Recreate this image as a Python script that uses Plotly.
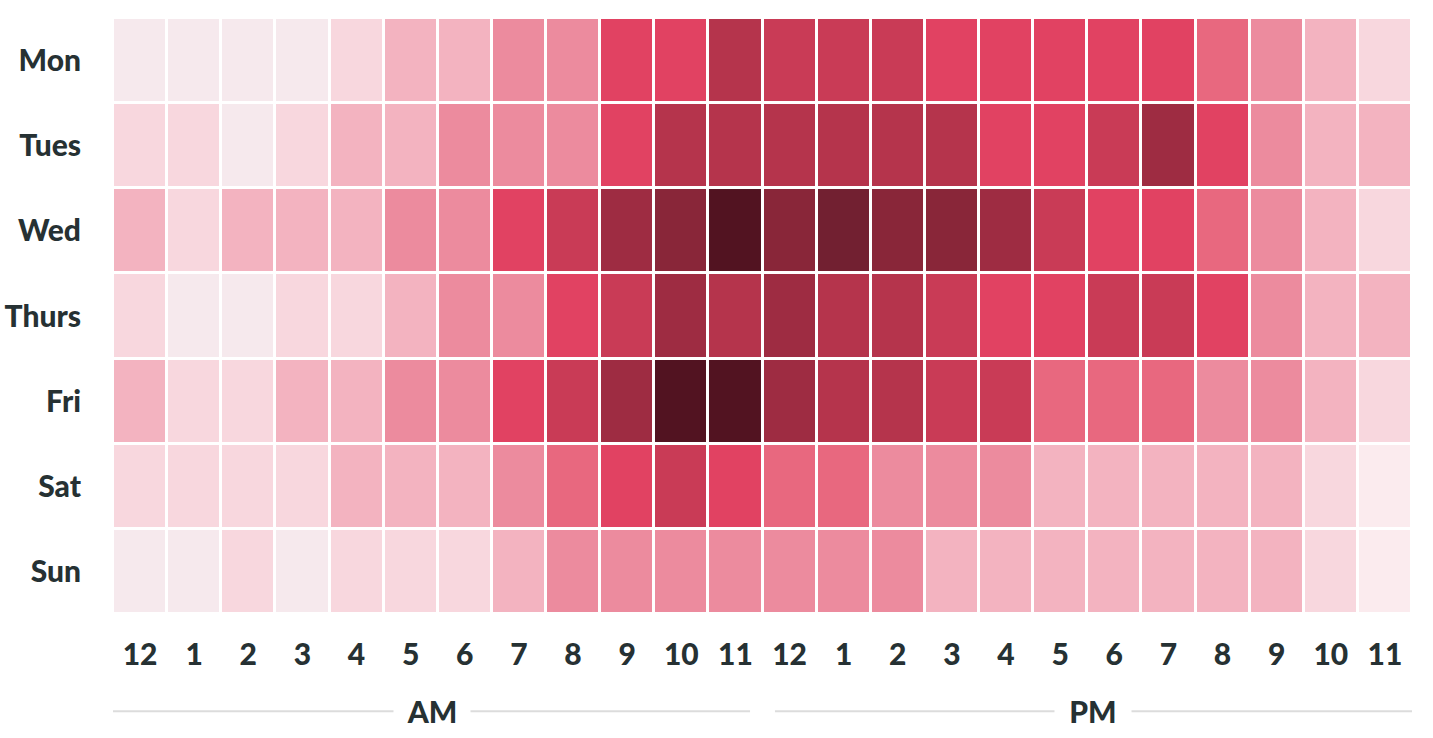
import plotly.graph_objects as go

days = ["Mon", "Tues", "Wed", "Thurs", "Fri", "Sat", "Sun"]
hour_labels = ["12", "1", "2", "3", "4", "5", "6", "7", "8", "9", "10", "11",
               "12", "1", "2", "3", "4", "5", "6", "7", "8", "9", "10", "11"]

# activity level (0 = lowest, 12 = highest) for each hour, 12 AM .. 11 PM
mon   = [1, 1, 1, 1, 2, 3, 3, 4, 4, 6, 6, 8, 7, 7, 7, 6, 6, 6, 6, 6, 5, 4, 3, 2]
tues  = [2, 2, 1, 2, 3, 3, 4, 4, 4, 6, 8, 8, 8, 8, 8, 8, 6, 6, 7, 9, 6, 4, 3, 3]
wed   = [3, 2, 3, 3, 3, 4, 4, 6, 7, 9, 10, 12, 10, 11, 10, 10, 9, 7, 6, 6, 5, 4, 3, 2]
thurs = [2, 1, 1, 2, 2, 3, 4, 4, 6, 7, 9, 8, 9, 8, 8, 7, 6, 6, 7, 7, 6, 4, 3, 3]
fri   = [3, 2, 2, 3, 3, 4, 4, 6, 7, 9, 12, 12, 9, 8, 8, 7, 7, 5, 5, 5, 4, 4, 3, 2]
sat   = [2, 2, 2, 2, 3, 3, 3, 4, 5, 6, 7, 6, 5, 5, 4, 4, 4, 3, 3, 3, 3, 3, 2, 0]
sun   = [1, 1, 2, 1, 2, 2, 2, 3, 4, 4, 4, 4, 4, 4, 4, 3, 3, 3, 3, 3, 3, 3, 2, 0]

level_colors = ["#fbebee", "#f6e9ed", "#f8d7de", "#f3b3c0", "#ec8b9e", "#e8687f", "#e14262",
                "#c93b56", "#b5344c", "#9e2c42", "#892639", "#722031", "#521321"]

z = [mon, tues, wed, thurs, fri, sat, sun]
n = len(level_colors)
colorscale = []
for i, c in enumerate(level_colors):
    colorscale.append([i / n, c])
    colorscale.append([(i + 1) / n, c])

fig = go.Figure(go.Heatmap(
    z=z,
    x=list(range(24)),
    y=list(range(7)),
    colorscale=colorscale,
    zmin=-0.5, zmax=n - 0.5,
    xgap=3, ygap=3,
    showscale=False,
    hoverinfo="skip",
))

font_family = "Lato, 'Open Sans', sans-serif"
txt_color = "#263133"
fsize = 30

fig.update_layout(
    width=1433, height=738,
    margin=dict(l=113, r=21, t=18, b=124),
    plot_bgcolor="white", paper_bgcolor="white",
    font=dict(family=font_family, color=txt_color, size=fsize),
    xaxis=dict(
        tickmode="array", tickvals=list(range(24)), ticktext=hour_labels,
        showgrid=False, zeroline=False, showline=False, ticks="",
        range=[-0.5, 23.5], ticklabelstandoff=20, automargin=False,
        tickfont=dict(family=font_family, size=fsize, color=txt_color, weight=900),
        fixedrange=True,
    ),
    yaxis=dict(
        tickmode="array", tickvals=list(range(7)), ticktext=days,
        showgrid=False, zeroline=False, showline=False, ticks="",
        range=[6.5, -0.5], ticklabelstandoff=31, automargin=False,
        tickfont=dict(family=font_family, size=fsize, color=txt_color, weight=900),
        fixedrange=True,
    ),
)

# AM / PM group lines
line_y = -0.163
for x0, x1, label in [(-0.5, 11.27, "AM"), (11.73, 23.5, "PM")]:
    fig.add_shape(type="line", xref="x", yref="paper", x0=x0, x1=x1,
                  y0=line_y, y1=line_y, line=dict(color="#dcdcdc", width=2))
    fig.add_annotation(xref="x", yref="paper", x=(x0 + x1) / 2, y=line_y,
                       text=label, showarrow=False, bgcolor="white", borderpad=0,
                       xanchor="center", yanchor="middle",
                       font=dict(family=font_family, size=fsize, color=txt_color, weight=900),
                       width=76)

fig.write_html("out.html", config={"displayModeBar": False},
               post_script="document.body.style.margin='0';")
